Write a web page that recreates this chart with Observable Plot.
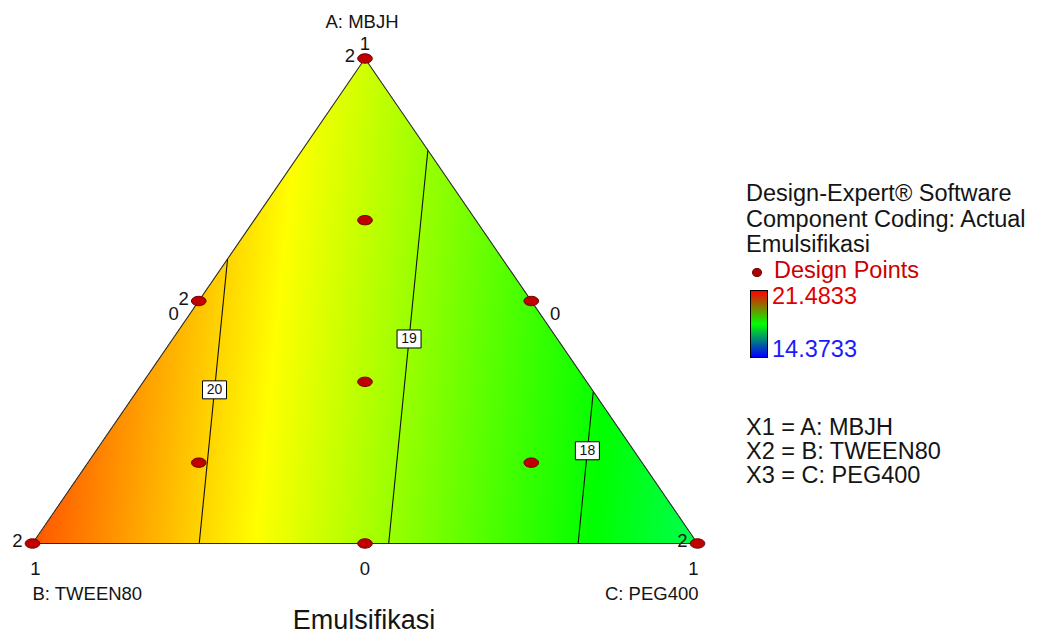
<!DOCTYPE html>
<html>
<head>
<meta charset="utf-8">
<script src="https://cdn.jsdelivr.net/npm/d3@7"></script>
<script src="https://cdn.jsdelivr.net/npm/@observablehq/plot@0.6"></script>
<style>
  body { margin: 0; background: #fff; font-family: "Liberation Sans", Arial, sans-serif; }
  #wrap { position: relative; width: 1039px; height: 641px; overflow: hidden; }
  .lg { position: absolute; white-space: nowrap; font-size: 23.5px; line-height: 25.5px; color: #141414; }
  #bar { position: absolute; left: 750px; top: 290px; width: 16px; height: 66px; border: 1px solid #000;
         background: linear-gradient(to bottom, #ff0000, #00ff00, #0000ff); }
  #dp { position: absolute; left: 752px; top: 268px; width: 8px; height: 7px; border-radius: 50%; background: #b00000; border: 1px solid #600; }
</style>
</head>
<body>
<div id="wrap">
  <div id="chart"></div>
</div>
<script>
// ---------- data ----------
const componentNames = ["A: MBJH", "B: TWEEN80", "C: PEG400"];
// design points (mixture proportions)
const ptA = [1, 0, 0, 0.5, 0.5, 0, 2/3, 1/6, 1/6, 1/3];
const ptB = [0, 1, 0, 0.5, 0, 0.5, 1/6, 2/3, 1/6, 1/3];
const ptC = [0, 0, 1, 0, 0.5, 0.5, 1/6, 1/6, 2/3, 1/3];
const ptCount = [2, 2, 2, 2, 1, 1, 1, 1, 1, 1];
// linear mixture model coefficients (Emulsifikasi)
const coefA = 19.38, coefB = 20.88, coefC = 17.37;
// contour levels and label position along each contour
const levels = [20, 19, 18];
const labelFrac = [0.46, 0.48, 0.39];
// colour map
const colorStops = [14.3733, 16.1508, 17.9283, 19.7058, 21.4833];
const colorRange = ["#0000ff", "#00ffff", "#00ff00", "#ffff00", "#ff0000"];
// edge tick labels
const edgeTickA = [0.5, 0.5], edgeTickB = [0.5, 0], edgeTickC = [0, 0.5], edgeTickText = ["0", "0"];
// legend
const legendLines = ["Design-Expert® Software", "Component Coding: Actual", "Emulsifikasi"];
const legendPointsLabel = "Design Points";
const legendMax = "21.4833", legendMin = "14.3733";
const factorLines = ["X1 = A: MBJH", "X2 = B: TWEEN80", "X3 = C: PEG400"];
const chartTitle = "Emulsifikasi";

// ---------- helpers ----------
const toX = (a, b, c) => c + a / 2;
const toY = (a, b, c) => a;
const model = (a, b, c) => coefA * a + coefB * b + coefC * c;

const verts = [
  {a: 1, b: 0, c: 0, v: coefA},
  {a: 0, b: 1, c: 0, v: coefB},
  {a: 0, b: 0, c: 1, v: coefC}
].map(d => ({...d, x: toX(d.a, d.b, d.c), y: toY(d.a, d.b, d.c)}));
const outline = [verts[0], verts[1], verts[2], verts[0]];

const points = ptA.map((a, i) => ({a, b: ptB[i], c: ptC[i], n: ptCount[i],
  x: toX(a, ptB[i], ptC[i]), y: toY(a, ptB[i], ptC[i])}));

// contour segments from linear model
const edges = [[0, 1], [1, 2], [2, 0]];
const segs = levels.map((L, k) => {
  const pts = [];
  for (const [i, j] of edges) {
    const P = verts[i], Q = verts[j];
    if ((L - P.v) * (L - Q.v) < 0) {
      const t = (L - P.v) / (Q.v - P.v);
      pts.push({x: P.x + t * (Q.x - P.x), y: P.y + t * (Q.y - P.y)});
    }
  }
  pts.sort((p, q) => q.y - p.y);
  const [p1, p2] = pts;
  const f = labelFrac[k];
  return {x1: p1.x, y1: p1.y, x2: p2.x, y2: p2.y, lx: p1.x + f * (p2.x - p1.x), ly: p1.y + f * (p2.y - p1.y), label: String(L)};
});

const edgeTicks = edgeTickA.map((a, i) => ({x: toX(a, edgeTickB[i], edgeTickC[i]), y: toY(a, edgeTickB[i], edgeTickC[i]), t: edgeTickText[i]}));
const bottomMid = [{x: 0.5, y: 0, t: "0"}];

const inside = (x, y) => {
  const a = y, c = x - y / 2, b = 1 - a - c;
  return a >= 0 && b >= 0 && c >= 0;
};

const ellipse = {
  draw(ctx) {
    const rx = 7.3, ry = 4.7, k = 0.5523;
    ctx.moveTo(rx, 0);
    ctx.bezierCurveTo(rx, ry * k, rx * k, ry, 0, ry);
    ctx.bezierCurveTo(-rx * k, ry, -rx, ry * k, -rx, 0);
    ctx.bezierCurveTo(-rx, -ry * k, -rx * k, -ry, 0, -ry);
    ctx.bezierCurveTo(rx * k, -ry, rx, -ry * k, rx, 0);
    ctx.closePath();
  }
};
const box = { draw(ctx) { ctx.rect(-12, -9, 24, 18); } };

const font = "Liberation Sans, Arial, sans-serif";
const ink = "#141414";

const chart = Plot.plot({
  width: 1039,
  height: 641,
  marginLeft: 32,
  marginRight: 342,
  marginTop: 58,
  marginBottom: 98,
  style: {fontFamily: font, background: "#fff"},
  x: {domain: [0, 1], axis: null},
  y: {domain: [0, 1], axis: null},
  color: {type: "linear", domain: colorStops, range: colorRange, interpolate: "rgb", clamp: true},
  opacity: {type: "identity"},
  marks: [
    Plot.raster({
      x1: 0, x2: 1, y1: 0, y2: 1,
      fill: (x, y) => { const a = y, c = x - y / 2, b = 1 - a - c; return model(a, b, c); },
      fillOpacity: (x, y) => inside(x, y) ? 1 : 0
    }),
    Plot.link(segs, {x1: "x1", y1: "y1", x2: "x2", y2: "y2", stroke: "#111", strokeWidth: 1.1}),
    Plot.line(outline, {x: "x", y: "y", stroke: "#2a2a2a", strokeWidth: 1.1}),
    Plot.dot(segs, {x: "lx", y: "ly", symbol: box, fill: "#fff", stroke: "#000", strokeWidth: 1}),
    Plot.text(segs, {x: "lx", y: "ly", text: "label", fontSize: 14, fill: "#111"}),
    Plot.dot(points, {x: "x", y: "y", symbol: ellipse, fill: "#c00000", stroke: "#6a0000", strokeWidth: 1}),
    Plot.text(points.filter(d => d.n > 1), {x: "x", y: "y", text: d => String(d.n), dx: -15, dy: -2, fontSize: 18.5, fill: ink}),
    // vertex proportion labels
    Plot.text([verts[0]], {x: "x", y: "y", text: () => "1", dy: -14, fontSize: 18.5, fill: ink}),
    Plot.text([verts[1]], {x: "x", y: "y", text: () => "1", dx: 3, dy: 26, fontSize: 18.5, fill: ink}),
    Plot.text([verts[2]], {x: "x", y: "y", text: () => "1", dx: -4, dy: 26, fontSize: 18.5, fill: ink}),
    Plot.text(bottomMid, {x: "x", y: "y", text: "t", dy: 26, fontSize: 18.5, fill: ink}),
    Plot.text(edgeTicks.slice(0, 1), {x: "x", y: "y", text: "t", dx: -25, dy: 13, fontSize: 18.5, fill: ink}),
    Plot.text(edgeTicks.slice(1, 2), {x: "x", y: "y", text: "t", dx: 24, dy: 13, fontSize: 18.5, fill: ink}),
    // component names
    Plot.text([verts[0]], {x: "x", y: "y", text: () => componentNames[0], dx: -3, dy: -36, fontSize: 18.5, fill: ink}),
    Plot.text([verts[1]], {x: "x", y: "y", text: () => componentNames[1], textAnchor: "start", dy: 51, fontSize: 18.5, fill: ink}),
    Plot.text([verts[2]], {x: "x", y: "y", text: () => componentNames[2], textAnchor: "end", dx: 1, dy: 51, fontSize: 18.5, fill: ink}),
    // title
    Plot.text([chartTitle], {frameAnchor: "bottom", text: d => d, dx: -1, dy: 85, fontSize: 27, fill: ink})
  ]
});
const wrap = document.getElementById("wrap");
document.getElementById("chart").appendChild(chart);

// ---------- legend (HTML) ----------
function addDiv(cls, text, left, top, color) {
  const d = document.createElement("div");
  d.className = cls;
  d.textContent = text;
  d.style.left = left + "px";
  d.style.top = top + "px";
  if (color) d.style.color = color;
  wrap.appendChild(d);
  return d;
}
legendLines.forEach((t, i) => addDiv("lg", t, 746, 181 + i * 25.5));
addDiv("lg", legendPointsLabel, 774, 258, "#cc0000");
const dp = document.createElement("div"); dp.id = "dp"; wrap.appendChild(dp);
const bar = document.createElement("div"); bar.id = "bar"; wrap.appendChild(bar);
addDiv("lg", legendMax, 772, 284, "#e00000");
addDiv("lg", legendMin, 772, 337, "#1a1aff");
factorLines.forEach((t, i) => addDiv("lg", t, 746, 415 + i * 24));
</script>
</body>
</html>
